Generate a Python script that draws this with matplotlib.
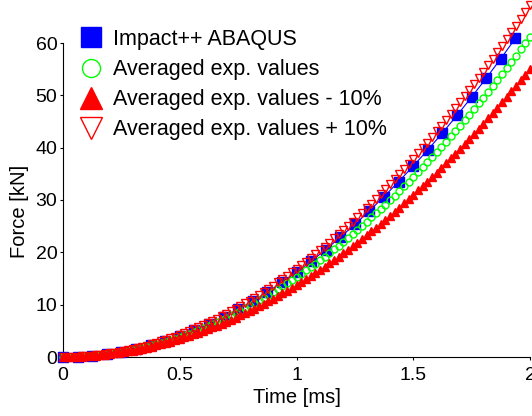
import matplotlib
matplotlib.use("Agg")
import matplotlib.pyplot as plt
from matplotlib.lines import Line2D
import numpy as np

plt.rcParams['font.family'] = ['Liberation Sans', 'DejaVu Sans']

# ---------------- data ----------------
# experimental time base [ms]
t_exp = [round(0.02 * k, 2) for k in range(101)]

avg_exp = [0.00, 0.01, 0.02, 0.06, 0.10, 0.15, 0.22, 0.30, 0.39, 0.50,
           0.61, 0.74, 0.88, 1.03, 1.20, 1.38, 1.57, 1.77, 1.98, 2.21,
           2.45, 2.70, 2.96, 3.24, 3.53, 3.83, 4.14, 4.46, 4.80, 5.15,
           5.51, 5.88, 6.27, 6.67, 7.08, 7.50, 7.93, 8.38, 8.84, 9.31,
           9.79, 10.29, 10.80, 11.32, 11.85, 12.39, 12.95, 13.52, 14.10, 14.69,
           15.30, 15.92, 16.55, 17.19, 17.85, 18.51, 19.19, 19.88, 20.59, 21.30,
           22.03, 22.77, 23.53, 24.29, 25.07, 25.86, 26.66, 27.47, 28.30, 29.14,
           29.99, 30.85, 31.73, 32.61, 33.51, 34.43, 35.35, 36.29, 37.23, 38.20,
           39.17, 40.15, 41.15, 42.16, 43.18, 44.22, 45.26, 46.32, 47.39, 48.48,
           49.57, 50.68, 51.80, 52.93, 54.08, 55.23, 56.40, 57.58, 58.78, 59.98,
           61.20]

avg_minus10 = [0.00, 0.01, 0.02, 0.05, 0.09, 0.14, 0.20, 0.27, 0.35, 0.45,
               0.55, 0.67, 0.79, 0.93, 1.08, 1.24, 1.41, 1.59, 1.78, 1.99,
               2.21, 2.43, 2.66, 2.92, 3.18, 3.45, 3.73, 4.01, 4.32, 4.64,
               4.96, 5.29, 5.64, 6.00, 6.37, 6.75, 7.14, 7.54, 7.96, 8.38,
               8.81, 9.26, 9.72, 10.19, 10.67, 11.15, 11.66, 12.17, 12.69, 13.22,
               13.77, 14.33, 14.90, 15.47, 16.07, 16.66, 17.27, 17.89, 18.53, 19.17,
               19.83, 20.49, 21.18, 21.86, 22.56, 23.27, 23.99, 24.72, 25.47, 26.23,
               26.99, 27.77, 28.56, 29.35, 30.16, 30.99, 31.82, 32.66, 33.51, 34.38,
               35.25, 36.14, 37.04, 37.94, 38.86, 39.80, 40.73, 41.69, 42.65, 43.63,
               44.61, 45.61, 46.62, 47.64, 48.67, 49.71, 50.76, 51.82, 52.90, 53.98,
               55.08]

avg_plus10 = [0.00, 0.01, 0.02, 0.07, 0.11, 0.17, 0.24, 0.33, 0.43, 0.55,
              0.67, 0.81, 0.97, 1.13, 1.32, 1.52, 1.73, 1.95, 2.18, 2.43,
              2.70, 2.97, 3.26, 3.56, 3.88, 4.21, 4.55, 4.91, 5.28, 5.67,
              6.06, 6.47, 6.90, 7.34, 7.79, 8.25, 8.72, 9.22, 9.72, 10.24,
              10.77, 11.32, 11.88, 12.45, 13.04, 13.63, 14.25, 14.87, 15.51, 16.16,
              16.83, 17.51, 18.21, 18.91, 19.64, 20.36, 21.11, 21.87, 22.65, 23.43,
              24.23, 25.05, 25.88, 26.72, 27.58, 28.45, 29.33, 30.22, 31.13, 32.05,
              32.99, 33.94, 34.90, 35.87, 36.86, 37.87, 38.89, 39.92, 40.95, 42.02,
              43.09, 44.17, 45.27, 46.38, 47.50, 48.64, 49.79, 50.95, 52.13, 53.33,
              54.53, 55.75, 56.98, 58.22, 59.49, 60.75, 62.04, 63.34, 64.66, 65.98,
              67.32]

# simulation time base [ms]
t_sim = [0.0625 * k for k in range(32)]
impact_abaqus = [0.00, 0.06, 0.25, 0.57, 1.01, 1.58, 2.28, 3.10, 4.05, 5.13,
                 6.34, 7.67, 9.12, 10.71, 12.42, 14.25, 16.22, 18.31, 20.53, 22.87,
                 25.34, 27.94, 30.66, 33.51, 36.49, 39.59, 42.82, 46.18, 49.67, 53.28,
                 57.02, 60.88]

labels = ["Impact++ ABAQUS", "Averaged exp. values",
          "Averaged exp. values - 10%", "Averaged exp. values + 10%"]
x_ticks = [0, 0.5, 1, 1.5, 2]
x_ticklabels = ["0", "0.5", "1", "1.5", "2"]
y_ticks = [0, 10, 20, 30, 40, 50, 60]

BLUE = (0, 0, 1)
GREEN = (0, 1, 0)
RED = (1, 0, 0)

# ---------------- figure ----------------
fig = plt.figure(figsize=(5.32, 4.16), dpi=100)
ax = fig.add_axes([63 / 532, 59 / 416, 467 / 532, 314 / 416])

ax.plot(t_sim, impact_abaqus, color=BLUE, lw=0.8, clip_on=False, zorder=3)
ax.plot(t_sim, impact_abaqus, ls='none', marker='s', ms=6.5, color=BLUE,
        clip_on=False, zorder=3)
ax.plot(t_exp, avg_exp, ls='none', marker='o', ms=5, mfc='none', mec=GREEN,
        mew=1.0, clip_on=False, zorder=4)
ax.plot(t_exp, avg_minus10, ls='none', marker='^', ms=5.5, color=RED,
        clip_on=False, zorder=5)
ax.plot(t_exp, avg_plus10, ls='none', marker='v', ms=5.5, mfc='none', mec=RED,
        mew=1.0, clip_on=False, zorder=6)

ax.set_xlim(0, 2)
ax.set_ylim(0, 60)
ax.set_xticks(x_ticks)
ax.set_xticklabels(x_ticklabels)
ax.set_yticks(y_ticks)

for s in ['top', 'right']:
    ax.spines[s].set_visible(False)
for s in ['left', 'bottom']:
    ax.spines[s].set_linewidth(0.8)
    ax.spines[s].set_zorder(2)

ax.tick_params(axis='both', direction='out', length=2.5, width=0.8,
               labelsize=14)
ax.tick_params(axis='y', pad=1.5)
ax.tick_params(axis='x', pad=4.5)

ax.set_xlabel("Time [ms]", fontsize=14.5, labelpad=3)
ax.set_ylabel("Force [kN]", fontsize=14.5)
ax.yaxis.set_label_coords(-0.072, 0.462)

handles = [
    Line2D([], [], ls='none', marker='s', ms=15, color=BLUE),
    Line2D([], [], ls='none', marker='o', ms=13, mfc='none', mec=GREEN, mew=1.0),
    Line2D([], [], ls='none', marker='^', ms=16, color=RED),
    Line2D([], [], ls='none', marker='v', ms=16, mfc='none', mec=RED, mew=1.0),
]
fig.legend(handles, labels, loc='upper left', bbox_to_anchor=(80 / 532, 1 - 29 / 416),
           frameon=False, fontsize=15.5, handlelength=1.0, handletextpad=0.55,
           labelspacing=0.42, borderpad=0, borderaxespad=0)

fig.savefig("out.png", dpi=100)
